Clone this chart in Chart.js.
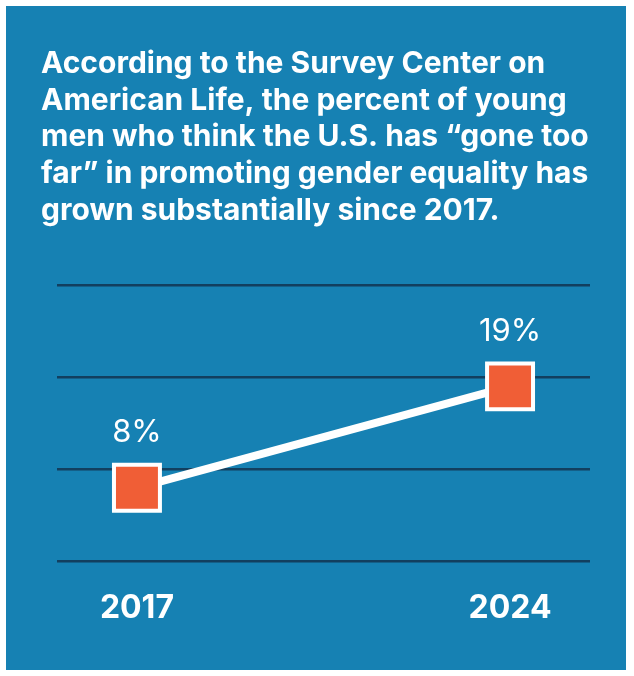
<!DOCTYPE html>
<html lang="en">
  <head>
    <title>Young men and gender equality</title>
    <style>
      body { margin: 0; background: #fff; }
    </style>
  </head>
  <body>
    <canvas id="chart" width="634" height="676"></canvas>
    <script src="https://cdn.jsdelivr.net/npm/chart.js@4.4.1/dist/chart.umd.min.js"></script>
    <script>
      const years = [2017, 2024];
      const percents = [8, 19];
      const titleLines = [
        'According to the Survey Center on',
        'American Life, the percent of young',
        'men who think the U.S. has \u201cgone too',
        'far\u201d in promoting gender equality has',
        'grown substantially since 2017.'
      ];

      const blue = '#1681b3';
      const orange = '#f05e36';

      // blue panel with a thin white frame
      const panel = {
        id: 'panel',
        beforeDraw(chart) {
          const c = chart.ctx;
          c.save();
          c.fillStyle = '#ffffff';
          c.fillRect(0, 0, chart.width, chart.height);
          c.fillStyle = blue;
          c.fillRect(6, 6, chart.width - 14, chart.height - 12);
          c.restore();
        }
      };

      // "8%" / "19%" above the squares
      const valueLabels = {
        id: 'valueLabels',
        afterDatasetsDraw(chart) {
          const c = chart.ctx;
          const meta = chart.getDatasetMeta(0);
          c.save();
          c.fillStyle = '#ffffff';
          c.font = '400 31px Inter';
          c.textAlign = 'center';
          c.textBaseline = 'middle';
          meta.data.forEach((pt, i) => {
            c.fillText(percents[i] + '%', pt.x, pt.y - 55);
          });
          c.restore();
        }
      };

      new Chart(document.getElementById('chart'), {
        type: 'line',
        data: {
          datasets: [{
            data: years.map((y, i) => ({ x: y, y: percents[i] })),
            borderColor: '#ffffff',
            borderWidth: 8,
            pointStyle: 'rect',
            pointRadius: 32.5,
            pointBorderWidth: 4,
            pointBorderColor: '#ffffff',
            pointBackgroundColor: orange,
            clip: false
          }]
        },
        options: {
          responsive: false,
          animation: false,
          layout: { padding: { top: 45, left: 41, right: 44, bottom: 28 } },
          plugins: {
            legend: { display: false },
            tooltip: { enabled: false },
            title: {
              display: true,
              text: titleLines,
              align: 'start',
              color: '#ffffff',
              font: { family: 'Inter', size: 30, weight: '700', lineHeight: 1.233 },
              padding: { top: 0, bottom: 55 }
            }
          },
          scales: {
            x: {
              type: 'linear',
              min: 2015.5,
              max: 2025.5,
              afterBuildTicks: s => { s.ticks = years.map(v => ({ value: v })); },
              grid: { display: false },
              border: { display: false },
              ticks: {
                color: '#ffffff',
                font: { family: 'Inter', size: 32, weight: '700' },
                padding: 20,
                maxRotation: 0,
                autoSkip: false,
                callback: v => String(v)
              }
            },
            y: {
              min: 0,
              max: 30,
              afterFit: s => { s.width = 16; },
              ticks: { display: false, stepSize: 10 },
              border: { display: false },
              grid: { color: '#123f5f', lineWidth: 2.5, drawTicks: false }
            }
          }
        },
        plugins: [panel, valueLabels]
      });
    </script>
  </body>
</html>
